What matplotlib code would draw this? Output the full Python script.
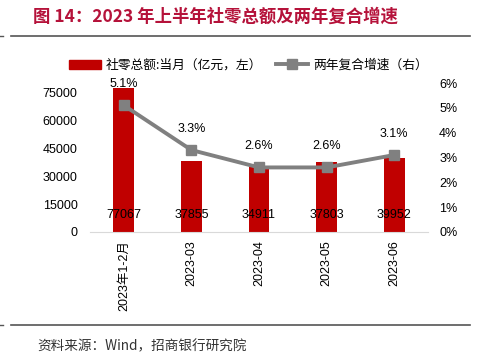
import matplotlib
matplotlib.use("Agg")
import matplotlib.pyplot as plt
from matplotlib.lines import Line2D
from matplotlib.patches import Patch
import numpy as np

plt.rcParams['font.family'] = ['Liberation Sans', 'Noto Sans CJK SC', 'DejaVu Sans']

CATEGORIES = ["2023年1-2月", "2023-03", "2023-04", "2023-05", "2023-06"]
RETAIL = [77067, 37855, 34911, 37803, 39952]          # 亿元
GROWTH = [5.1, 3.3, 2.6, 2.6, 3.1]                    # %
LEFT_TICKS = [0, 15000, 30000, 45000, 60000, 75000]
RIGHT_TICKS = [0, 1, 2, 3, 4, 5, 6]

RED, GRAY, TITLE_RED = "#C00000", "#808080", "#B5123A"
CJK = ['Noto Sans CJK SC', 'DejaVu Sans']
FS = 9

fig = plt.figure(figsize=(4.81, 3.58), dpi=100)
ax = fig.add_axes([90 / 481, 1 - 232 / 358, 338 / 481, 149 / 358])
ax2 = ax.twinx()

x = np.arange(len(CATEGORIES))
ax.bar(x, RETAIL, width=0.31, color=RED, zorder=2)
for xi, v in zip(x, RETAIL):
    ax.text(xi, 9000, f"{v}", ha="center", va="center", fontsize=FS, color="black", zorder=5)

ax2.plot(x, GROWTH, color=GRAY, lw=2.8, marker="s", ms=7, zorder=3)
for xi, g in zip(x, GROWTH):
    ax2.text(xi, g + 0.85, f"{g:.1f}%", ha="center", va="center", fontsize=FS)

ax.set_xlim(-0.5, len(CATEGORIES) - 0.5)
ax.set_ylim(0, 80000)
ax2.set_ylim(0, 6)
ax.set_yticks(LEFT_TICKS)
ax.set_yticklabels([str(t) for t in LEFT_TICKS], fontsize=FS)
ax2.set_yticks(RIGHT_TICKS)
ax2.set_yticklabels([f"{t}%" for t in RIGHT_TICKS], fontsize=FS)
ax.set_xticks(x)
ax.set_xticklabels(CATEGORIES, rotation=90, fontsize=FS)
for a in (ax, ax2):
    for s in ("top", "left", "right"):
        a.spines[s].set_visible(False)
    a.tick_params(length=0)
ax.spines["bottom"].set_color("#D9D9D9")
ax2.spines["bottom"].set_visible(False)
ax.tick_params(axis="y", pad=9)
ax2.tick_params(axis="y", pad=8)
ax.tick_params(axis="x", pad=6)
ax.set_zorder(ax2.get_zorder() - 1)
ax.patch.set_visible(False)

handles = [Patch(color=RED), Line2D([], [], color=GRAY, lw=2.8, marker="s", ms=7)]
leg = fig.legend(handles, ["社零总额:当月（亿元，左）", "两年复合增速（右）"],
                 loc="center left", bbox_to_anchor=(66 / 481, 1 - 65 / 358), ncol=2,
                 frameon=False, prop={"family": CJK, "size": 9.2},
                 handlelength=2.5, handleheight=0.7, columnspacing=1.1, handletextpad=0.4,
                 borderaxespad=0, borderpad=0.2)

fig.text(33 / 481, 1 - 17 / 358, "图 14：2023 年上半年社零总额及两年复合增速",
         fontsize=12.5, fontweight="bold", color=TITLE_RED, family=CJK, va="center")
# frame rules above and below the chart, with the small stub at the far left
for y in (36, 325):
    fig.add_artist(Line2D([11 / 481, 470 / 481], [1 - y / 358] * 2, color="#555555", lw=1.2))
    fig.add_artist(Line2D([0, 3 / 481], [1 - y / 358] * 2, color="#555555", lw=1.0))
fig.text(37 / 481, 1 - 346 / 358, "资料来源：Wind，招商银行研究院",
         fontsize=9.8, color="#333333", family=CJK, va="center")

fig.savefig("out.png", dpi=100)
